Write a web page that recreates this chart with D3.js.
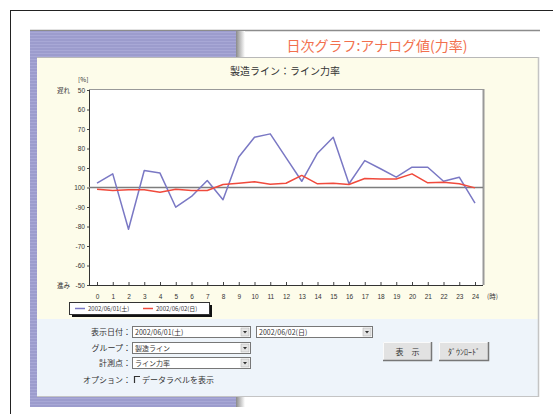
<!DOCTYPE html>
<html><head><meta charset="utf-8">
<script src="https://cdn.jsdelivr.net/npm/d3@7"></script>
<style>
html,body{margin:0;padding:0;background:#fff;}
svg{display:block;font-family:"Noto Sans CJK JP","Noto Sans",sans-serif;}
</style></head>
<body><svg id="c" width="553" height="414"></svg>
<script>
// ---- data ----
const hours = d3.range(0, 25);
// power factor deviation from 100: positive = 遅れ (lag), negative = 進み (lead)
const seriesJun01 = [2.2, 7.0, -21.4, 8.7, 7.4, -10.1, -4.6, 3.6, -6.3, 15.6, 25.8, 27.5, 15.3, 3.2, 17.6, 25.8, 1.9, 13.8, 9.6, 5.3, 10.4, 10.4, 3.2, 5.3, -8.0];
const seriesJun02 = [-0.9, -1.5, -1.2, -1.2, -2.4, -0.9, -1.5, -1.5, 1.5, 2.2, 2.9, 1.7, 2.2, 6.2, 1.9, 2.2, 1.5, 4.6, 4.4, 4.4, 7.0, 2.4, 2.7, 1.9, -0.2];
const seriesNames = ["2002/06/01(土)", "2002/06/02(日)"];
const yTickValues = [50, 40, 30, 20, 10, 0, -10, -20, -30, -40, -50];
const yTickLabels = ["50", "60", "70", "80", "90", "100", "-90", "-80", "-70", "-60", "-50"];
const xTickLabels = hours.map(String);
const pageTitle = "日次グラフ:アナログ値(力率)";
const chartTitle = "製造ライン：ライン力率";

const svg = d3.select("#c");
const purple = "#9c9ccd";

// outer frame
svg.append("rect").attr("x", 10.5).attr("y", 10.5).attr("width", 600).attr("height", 500)
  .attr("fill", "#fff").attr("stroke", "#222").attr("stroke-width", 1);

// gradients
const defs = svg.append("defs");
const g1 = defs.append("linearGradient").attr("id", "sh").attr("x1", 0).attr("x2", 1).attr("y1", 0).attr("y2", 0);
g1.append("stop").attr("offset", 0).attr("stop-color", "#8a8a8a");
g1.append("stop").attr("offset", 1).attr("stop-color", "#ffffff");
const pat = defs.append("pattern").attr("id", "stripe").attr("width", 4).attr("height", 3).attr("patternUnits", "userSpaceOnUse");
pat.append("rect").attr("width", 4).attr("height", 3).attr("fill", purple);
pat.append("rect").attr("y", 2).attr("width", 4).attr("height", 1).attr("fill", "#a8a8d6");

// header
svg.append("line").attr("x1", 30).attr("x2", 540).attr("y1", 30.5).attr("y2", 30.5).attr("stroke", "#8c8c8c").attr("stroke-width", 1.5);
svg.append("rect").attr("x", 30).attr("y", 31).attr("width", 206).attr("height", 27).attr("fill", "url(#stripe)");
svg.append("rect").attr("x", 236).attr("y", 31).attr("width", 9).attr("height", 27).attr("fill", "url(#sh)");
svg.append("text").attr("x", 377).attr("y", 51).attr("text-anchor", "middle")
  .attr("font-size", 14).attr("fill", "#f2704e").text(pageTitle);

// left strip & bottom band
svg.append("rect").attr("x", 30).attr("y", 57).attr("width", 7).attr("height", 350).attr("fill", "url(#stripe)");
svg.append("rect").attr("x", 30).attr("y", 397).attr("width", 206).attr("height", 10).attr("fill", "url(#stripe)");
svg.append("rect").attr("x", 236).attr("y", 397).attr("width", 9).attr("height", 10).attr("fill", "url(#sh)");

// panels
svg.append("rect").attr("x", 37).attr("y", 58).attr("width", 501).attr("height", 261).attr("fill", "#fdfcea");
svg.append("rect").attr("x", 37).attr("y", 319).attr("width", 501).attr("height", 77).attr("fill", "#eef4fa");
svg.append("line").attr("x1", 37).attr("x2", 539).attr("y1", 57.5).attr("y2", 57.5).attr("stroke", "#b8b8b8");
svg.append("line").attr("x1", 538.5).attr("x2", 538.5).attr("y1", 57).attr("y2", 397).attr("stroke", "#c4c4c4").attr("stroke-width", 1.5);
svg.append("line").attr("x1", 37).attr("x2", 539).attr("y1", 396.5).attr("y2", 396.5).attr("stroke", "#c4c4c4");

// ---- chart ----
const plot = {l: 89, r: 483, t: 90, b: 285};
const x = d3.scaleLinear().domain([0, 24]).range([97, 475]);
const y = d3.scaleLinear().domain([-50, 50]).range([plot.b, plot.t]);

svg.append("text").attr("x", 285).attr("y", 75).attr("text-anchor", "middle")
  .attr("font-size", 10).attr("fill", "#333").text(chartTitle);

svg.append("rect").attr("x", plot.l).attr("y", plot.t).attr("width", plot.r - plot.l).attr("height", plot.b - plot.t)
  .attr("fill", "#fff");
svg.append("line").attr("x1", plot.l).attr("x2", plot.r).attr("y1", plot.t - 0.5).attr("y2", plot.t - 0.5).attr("stroke", "#999");
svg.append("line").attr("x1", plot.r + 0.5).attr("x2", plot.r + 0.5).attr("y1", plot.t - 1).attr("y2", plot.b).attr("stroke", "#999").attr("stroke-width", 2);

// y axis
const yAxis = d3.axisLeft(y).tickValues(yTickValues).tickSize(2).tickPadding(2)
  .tickFormat((d, i) => yTickLabels[i]);
const gy = svg.append("g").attr("transform", `translate(${plot.l},0)`).call(yAxis);
gy.select(".domain").attr("stroke", "#333").attr("d", `M0.5,${plot.t}V${plot.b}`);
gy.selectAll(".tick line").attr("stroke", "#444");
gy.selectAll("text").attr("font-size", 6.5).attr("fill", "#333").attr("font-family", "Liberation Sans, sans-serif");

// x axis
const xAxis = d3.axisBottom(x).tickValues(hours).tickSize(-3).tickPadding(9)
  .tickFormat((d, i) => xTickLabels[i]);
const gx = svg.append("g").attr("transform", `translate(0,${plot.b})`).call(xAxis);
gx.select(".domain").attr("stroke", "#333").attr("d", `M${plot.l},0.5H${plot.r}`);
gx.selectAll(".tick line").attr("stroke", "#444");
gx.selectAll("text").attr("font-size", 6.5).attr("fill", "#333").attr("font-family", "Liberation Sans, sans-serif");

svg.append("text").attr("x", 487).attr("y", 299).attr("font-size", 6.5).attr("fill", "#333").text("(時)");
svg.append("text").attr("x", 78).attr("y", 82).attr("font-size", 6.5).attr("fill", "#333").text("[%]");
svg.append("text").attr("x", 57).attr("y", 93).attr("font-size", 6.5).attr("fill", "#333").text("遅れ");
svg.append("text").attr("x", 57).attr("y", 288).attr("font-size", 6.5).attr("fill", "#333").text("進み");

// 100 reference line
svg.append("line").attr("x1", plot.l).attr("x2", plot.r).attr("y1", y(0)).attr("y2", y(0))
  .attr("stroke", "#7d7d7d").attr("stroke-width", 1.5);

const line = d3.line().x((d, i) => x(hours[i])).y(d => y(d));
const colors = ["#7a78c4", "#f04a3c"];
[seriesJun01, seriesJun02].forEach((s, k) => {
  svg.append("path").datum(s).attr("d", line).attr("fill", "none")
    .attr("stroke", colors[k]).attr("stroke-width", 1.5).attr("stroke-linejoin", "round");
});

// legend
svg.append("rect").attr("x", 72).attr("y", 305).attr("width", 140).attr("height", 12).attr("fill", "#111");
svg.append("rect").attr("x", 69.5).attr("y", 302.5).attr("width", 140).attr("height", 12).attr("fill", "#fff").attr("stroke", "#333");
const legX = [75, 143];
seriesNames.forEach((n, k) => {
  svg.append("line").attr("x1", legX[k]).attr("x2", legX[k] + 10).attr("y1", 308.5).attr("y2", 308.5)
    .attr("stroke", colors[k]).attr("stroke-width", 1.5);
  svg.append("text").attr("x", legX[k] + 13).attr("y", 311).attr("font-size", 6).attr("fill", "#333").text(n);
});

// ---- form ----
const formLabels = ["表示日付：", "グループ：", "計測点：", "オプション："];
const formY = [335, 351, 366, 383];
formLabels.forEach((t, i) => {
  svg.append("text").attr("x", 131).attr("y", formY[i]).attr("text-anchor", "end")
    .attr("font-size", 8).attr("fill", "#333").text(t);
});
function select(x0, y0, w, txt) {
  svg.append("rect").attr("x", x0 + 0.5).attr("y", y0 + 0.5).attr("width", w).attr("height", 11)
    .attr("fill", "#fff").attr("stroke", "#777");
  svg.append("rect").attr("x", x0 + w - 9).attr("y", y0 + 2).attr("width", 8).attr("height", 8)
    .attr("fill", "#e4e4e4").attr("stroke", "#aaa").attr("stroke-width", 0.5);
  svg.append("path").attr("d", `M${x0 + w - 7},${y0 + 5}h4l-2,2.5z`).attr("fill", "#333");
  svg.append("text").attr("x", x0 + 3).attr("y", y0 + 9).attr("font-size", 7).attr("fill", "#333").text(txt);
}
select(132, 326, 118, "2002/06/01(土)");
select(256, 326, 116, "2002/06/02(日)");
select(132, 342, 118, "製造ライン");
select(132, 357, 118, "ライン力率");

svg.append("path").attr("d", "M134.5,383V376.5H140").attr("fill", "none").attr("stroke", "#333").attr("stroke-width", 1.2);
svg.append("text").attr("x", 142).attr("y", 383).attr("font-size", 8).attr("fill", "#333").text("データラベルを表示");

function button(x0, y0, w, h, txt) {
  svg.append("rect").attr("x", x0).attr("y", y0).attr("width", w).attr("height", h).attr("fill", "#e2e2e2");
  svg.append("path").attr("d", `M${x0 + 0.5},${y0 + h}V${y0 + 0.5}H${x0 + w}`).attr("fill", "none").attr("stroke", "#fafafa");
  svg.append("path").attr("d", `M${x0},${y0 + h - 0.5}H${x0 + w - 0.5}V${y0}`).attr("fill", "none").attr("stroke", "#777").attr("stroke-width", 1.5);
  svg.append("text").attr("x", x0 + w / 2).attr("y", y0 + h / 2 + 3).attr("text-anchor", "middle")
    .attr("font-size", 8).attr("fill", "#333").text(txt);
}
button(383, 342, 49, 19, "表　示");
button(439, 342, 50, 19, "ﾀﾞｳﾝﾛｰﾄﾞ");
</script></body></html>
